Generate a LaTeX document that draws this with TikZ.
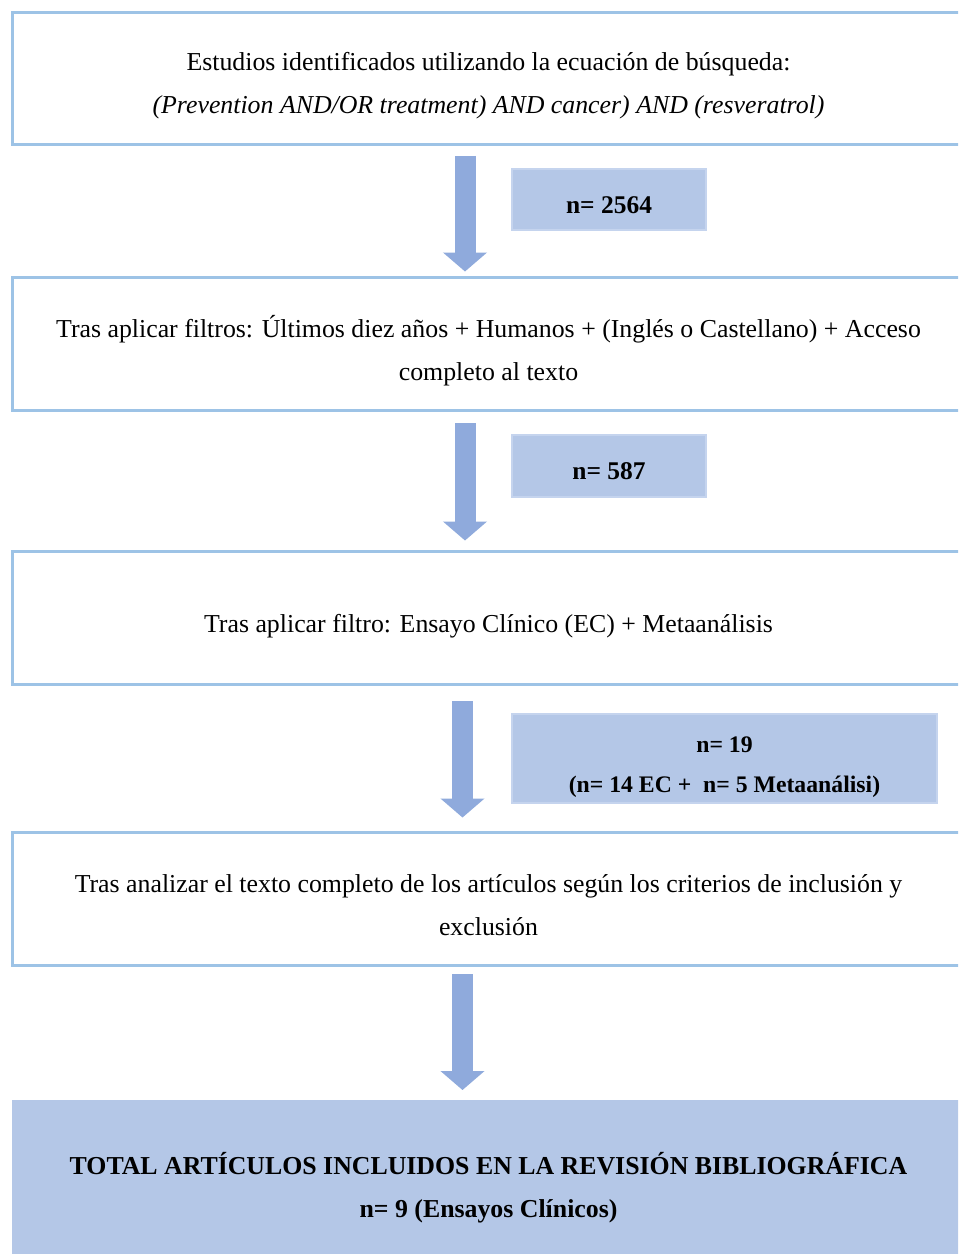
\documentclass[tikz,border=0pt]{standalone}
\usepackage{fontspec}
\setmainfont{Liberation Serif}
\usetikzlibrary{arrows.meta,positioning}
\definecolor{flowLine}{HTML}{9DC3E6}
\definecolor{flowFill}{HTML}{B4C7E7}
\definecolor{flowEdge}{HTML}{C5D4EE}
\definecolor{flowArrow}{HTML}{8FAADC}
\tikzset{
  every picture/.style={font=\fontsize{14.7}{24.4}\selectfont},
  flow box/.style={draw=flowLine, line width=0.06cm, fill=white,
    minimum width=19.05cm, minimum height=2.66cm, inner sep=0pt, outer sep=0pt},
  flow text/.style={align=center, inner sep=0pt},
  count box/.style={draw=flowEdge, line width=0.03cm, fill=flowFill,
    inner sep=0pt, outer sep=0pt},
  count text/.style={align=center, inner sep=0pt,
    font=\fontsize{14.5}{22.7}\selectfont\bfseries},
  total box/.style={fill=flowFill, minimum width=19.05cm,
    minimum height=3.2cm, inner sep=0pt, outer sep=0pt},
  flow arrow/.style={-{Triangle[width=0.86cm,length=0.38cm]}, draw=flowArrow,
    line width=0.42cm, line cap=butt}
}
\begin{document}
\begin{tikzpicture}[x=0.02cm,y=-0.02cm]
  \clip (0,0) rectangle (958,1254);
  \fill[white] (0,0) rectangle (958,1254);
  % steps of the search
  \node[flow box] (search) at (488.5,78.5) {};
  \node[flow text] (search txt) at ([yshift=-0.15cm]search.center) {Estudios identificados utilizando la ecuación de búsqueda:\\
    \textit{(Prevention AND/OR treatment) AND cancer) AND (resveratrol)}};
  \node[flow box] (filters) at (488.5,344) {};
  \node[flow text] (filters txt) at ([yshift=-0.14cm]filters.center) {Tras aplicar filtros: Últimos diez años + Humanos + (Inglés o Castellano) + Acceso\\
    completo al texto};
  \node[flow box] (design) at (488.5,618) {};
  \node[flow text] (design txt) at ([yshift=-0.17cm]design.center) {Tras aplicar filtro: Ensayo Clínico (EC) + Metaanálisis};
  \node[flow box] (fulltext) at (488.5,899) {};
  \node[flow text] (fulltext txt) at ([yshift=-0.12cm]fulltext.center) {Tras analizar el texto completo de los artículos según los criterios de inclusión y\\
    exclusión};
  \node[total box] (total) at (488.5,1180) {};
  \node[flow text, font=\fontsize{14.7}{24.4}\selectfont\bfseries] (total txt) at ([yshift=-0.16cm]total.center) {TOTAL ARTÍCULOS INCLUIDOS EN LA REVISIÓN BIBLIOGRÁFICA\\
    n= 9 (Ensayos Clínicos)};
  % counts
  \node[count box, minimum width=3.88cm, minimum height=1.22cm] (n1) at (609,199.5) {};
  \node[count text] (n1 txt) at ([yshift=-0.12cm]n1.center) {n= 2564};
  \node[count box, minimum width=3.88cm, minimum height=1.24cm] (n2) at (609,466) {};
  \node[count text] (n2 txt) at ([yshift=-0.1cm]n2.center) {n= 587};
  \node[count box, minimum width=8.5cm, minimum height=1.78cm] (n3) at (724.5,758.5) {};
  \node[count text, font=\fontsize{13.5}{22.7}\selectfont\bfseries] (n3 txt) at ([yshift=-0.17cm]n3.center) {n= 19\\(n= 14 EC +\ \ n= 5 Metaanálisi)};
  % arrows between the steps
  \coordinate (ax1) at (465,0);
  \coordinate (ax2) at (462.5,0);
  \draw[flow arrow, shorten <=0.22cm, shorten >=0.12cm] (search.south -| ax1) -- (filters.north -| ax1);
  \draw[flow arrow, shorten <=0.26cm, shorten >=0.22cm] (filters.south -| ax1) -- (design.north -| ax1);
  \draw[flow arrow, shorten <=0.34cm, shorten >=0.30cm] (design.south -| ax2) -- (fulltext.north -| ax2);
  \draw[flow arrow, shorten <=0.18cm, shorten >=0.20cm] (fulltext.south -| ax2) -- (total.north -| ax2);
\end{tikzpicture}
\end{document}
